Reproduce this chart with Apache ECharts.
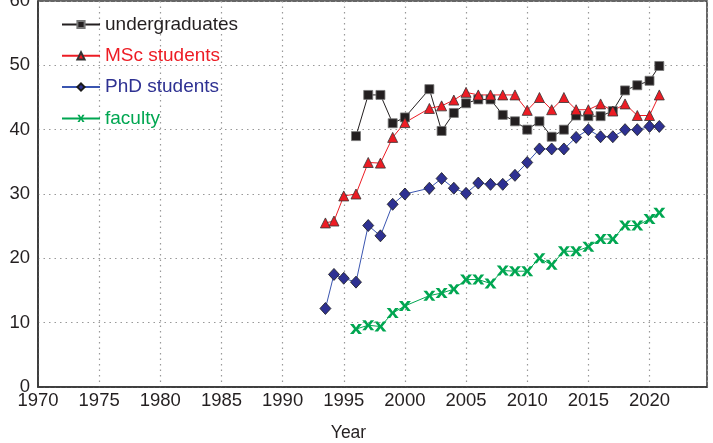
<!DOCTYPE html>
<html>
<head>
<meta charset="utf-8">
<script src="https://cdn.jsdelivr.net/npm/echarts@6/dist/echarts.min.js"></script>
<style>
html,body{margin:0;padding:0;background:#fff;}
#c{width:713px;height:443px;}
</style>
</head>
<body>
<div id="c"></div>
<script>
// ---- data ----
const seriesNames = ['undergraduates', 'MSc students', 'PhD students', 'faculty'];
const yearsEarly = [1993.5, 1994.2, 1995];
const yearsMain = [1996, 1997, 1998, 1999, 2000, 2002, 2003, 2004, 2005, 2006, 2007, 2008, 2009,
  2010, 2011, 2012, 2013, 2014, 2015, 2016, 2017, 2018, 2019, 2020, 2020.8];
const undergraduates = [39.0, 45.4, 45.4, 41.0, 41.9, 46.3, 39.8, 42.6, 44.1, 44.7, 44.7, 42.3, 41.3,
  40.0, 41.3, 38.9, 40.0, 42.2, 42.1, 42.1, 42.9, 46.1, 46.9, 47.6, 49.9];
const mscEarly = [25.5, 25.8, 29.7];
const mscMain = [30.0, 34.9, 34.8, 38.8, 41.1, 43.3, 43.7, 44.6, 45.8, 45.4, 45.4, 45.4, 45.4,
  43.0, 45.0, 43.1, 45.0, 43.1, 43.1, 44.0, 42.9, 44.0, 42.2, 42.2, 45.4];
const phdEarly = [12.2, 17.5, 16.9];
const phdMain = [16.3, 25.1, 23.5, 28.4, 30.0, 30.9, 32.4, 30.9, 30.1, 31.7, 31.5, 31.5, 32.9,
  34.9, 37.0, 37.0, 37.0, 38.8, 40.0, 38.9, 38.9, 40.0, 40.0, 40.5, 40.5];
const faculty = [9.0, 9.6, 9.4, 11.5, 12.6, 14.2, 14.6, 15.2, 16.7, 16.7, 16.1, 18.1, 18.0,
  18.0, 20.0, 19.0, 21.1, 21.1, 21.8, 23.0, 23.0, 25.1, 25.1, 26.1, 27.1];
const xTicks = [1970, 1975, 1980, 1985, 1990, 1995, 2000, 2005, 2010, 2015, 2020];
const yTicks = [0, 10, 20, 30, 40, 50, 60];

// ---- build ----
const pair = (xs, ys) => xs.map((x, i) => [x, ys[i]]);
const FONT = '"Liberation Sans Narrow", "Arial Narrow", "Liberation Sans", Arial, sans-serif';
const colors = ['#231f20', '#ed1c24', '#2e3192', '#00a651'];
const lineColors = ['#231f20', '#ed1c24', '#3a55b0', '#00a651'];
const xPath = 'path://M0,0 L3,0 L5,3.4 L7,0 L10,0 L6.6,5 L10,10 L7,10 L5,6.6 L3,10 L0,10 L3.4,5 Z';

const chart = echarts.init(document.getElementById('c'), null, {renderer: 'canvas'});
chart.setOption({
  animation: false,
  backgroundColor: '#fff',
  grid: {left: 38, right: 6, top: 1, bottom: 56, show: true, borderColor: '#333', borderWidth: 1.5,
    containLabel: false, outerBoundsMode: 'none'},
  legend: {
    orient: 'vertical', left: 56, top: 10, itemWidth: 38, itemHeight: 9, itemGap: 12.3,
    textStyle: {fontFamily: FONT, fontSize: 19},
    data: seriesNames.map((n, i) => ({name: n, textStyle: {color: colors[i]}}))
  },
  xAxis: {
    type: 'value', min: xTicks[0], max: 2024.7, interval: 5,
    name: 'Year', nameLocation: 'middle', nameGap: 37,
    nameTextStyle: {fontFamily: FONT, fontSize: 17.5, color: '#231f20', padding: [0, 48, 0, 0]},
    axisLine: {show: true, lineStyle: {color: '#333', width: 1.5}},
    axisTick: {show: false},
    axisLabel: {fontFamily: FONT, fontSize: 18.5, color: '#231f20', margin: 4, showMaxLabel: false,
      formatter: v => xTicks.includes(v) ? String(v) : ''},
    splitLine: {show: true, lineStyle: {color: '#999', type: [1.5, 4], width: 1.2}}
  },
  yAxis: {
    type: 'value', min: yTicks[0], max: yTicks[yTicks.length - 1], interval: 10,
    axisLine: {show: true, lineStyle: {color: '#333', width: 1.5}},
    axisTick: {show: false},
    axisLabel: {fontFamily: FONT, fontSize: 18.5, color: '#231f20', margin: 8},
    splitLine: {show: true, lineStyle: {color: '#999', type: [1.5, 4], width: 1.2}}
  },
  series: [
    {name: seriesNames[0], type: 'line', data: pair(yearsMain, undergraduates),
      symbol: 'rect', symbolSize: 9,
      lineStyle: {color: lineColors[0], width: 1},
      itemStyle: {color: colors[0], borderColor: '#777', borderWidth: 0.8}},
    {name: seriesNames[1], type: 'line', data: pair(yearsEarly.concat(yearsMain), mscEarly.concat(mscMain)),
      symbol: 'triangle', symbolSize: 10,
      lineStyle: {color: lineColors[1], width: 1},
      itemStyle: {color: colors[1], borderColor: '#333', borderWidth: 0.8}},
    {name: seriesNames[2], type: 'line', data: pair(yearsEarly.concat(yearsMain), phdEarly.concat(phdMain)),
      symbol: 'diamond', symbolSize: [11, 12],
      lineStyle: {color: lineColors[2], width: 1},
      itemStyle: {color: colors[2], borderColor: '#1a1a1a', borderWidth: 0.8}},
    {name: seriesNames[3], type: 'line', data: pair(yearsMain, faculty),
      symbol: xPath, symbolSize: [12, 10], symbolKeepAspect: false,
      lineStyle: {color: lineColors[3], width: 1},
      itemStyle: {color: colors[3], borderWidth: 0}}
  ]
});
</script>
</body>
</html>
